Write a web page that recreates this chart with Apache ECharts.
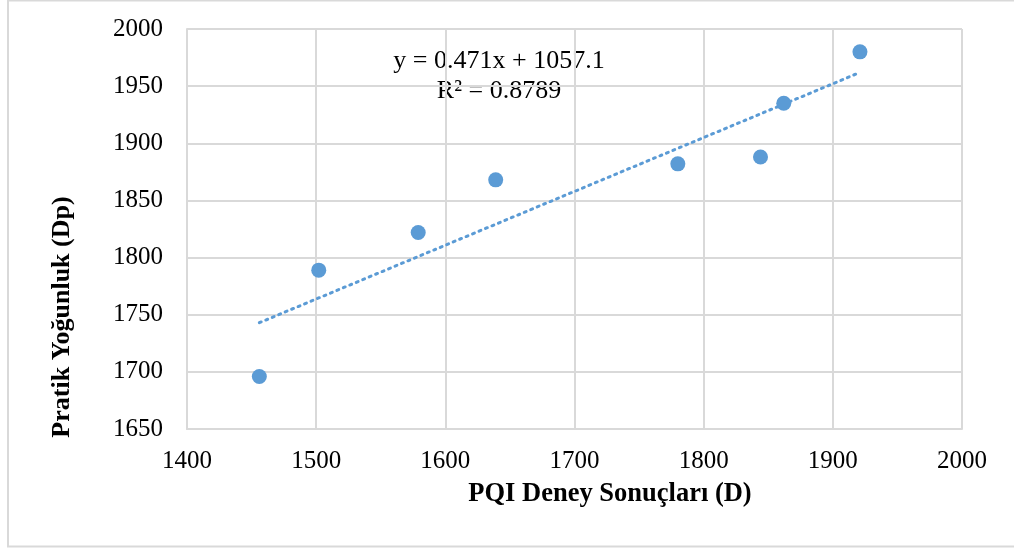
<!DOCTYPE html>
<html>
<head>
<meta charset="utf-8">
<script src="https://cdn.jsdelivr.net/npm/echarts@6/dist/echarts.min.js"></script>
<style>
  html, body { margin: 0; padding: 0; background: #fff; }
  #chart { width: 1014px; height: 551px; }
</style>
</head>
<body>
<div id="chart"></div>
<script>
// PQI readings (x) vs. practical density (y)
const pqiValues = [1456, 1502, 1579, 1639, 1780, 1844, 1862, 1921];
const densityValues = [1696, 1789, 1822, 1868, 1882, 1888, 1935, 1980];

// linear trendline ends, as drawn
const trendX = [1456, 1921];
const trendY = [1743, 1962];

const xTicks = [1400, 2000, 100];
const yTicks = [1650, 2000, 50];

const equationText = "y = 0.471x + 1057.1";
const r2Text = "R² = 0.8789";
const xTitle = "PQI Deney Sonuçları (D)";
const yTitle = "Pratik Yoğunluk (Dp)";

const FONT = '"Liberation Serif", "Times New Roman", serif';
const BLUE = "#5b9bd5";
const GRID = "#d9d9d9";

const chart = echarts.init(document.getElementById("chart"));

chart.setOption({
  animation: false,
  textStyle: { fontFamily: FONT },
  grid: { left: 187, top: 29, width: 775, height: 400, containLabel: false },
  xAxis: {
    type: "value",
    min: xTicks[0],
    max: xTicks[1],
    interval: xTicks[2],
    axisLine: { show: true, lineStyle: { color: GRID, width: 2 } },
    axisTick: { show: false },
    splitLine: { show: true, lineStyle: { color: GRID, width: 2 } },
    axisLabel: {
      color: "#000", fontSize: 25, fontFamily: FONT, margin: 20,
      formatter: (v) => String(v)
    }
  },
  yAxis: {
    type: "value",
    min: yTicks[0],
    max: yTicks[1],
    interval: yTicks[2],
    axisLine: { show: true, lineStyle: { color: GRID, width: 2 } },
    axisTick: { show: false },
    splitLine: { show: true, lineStyle: { color: GRID, width: 2 } },
    axisLabel: {
      color: "#000", fontSize: 25, fontFamily: FONT, margin: 24,
      formatter: (v) => String(v)
    }
  },
  series: [
    {
      name: "Trend",
      type: "line",
      data: trendX.map((x, i) => [x, trendY[i]]),
      showSymbol: false,
      lineStyle: { color: BLUE, width: 3, type: [2, 5], cap: "round" },
      z: 2
    },
    {
      name: "PQI",
      type: "scatter",
      data: pqiValues.map((x, i) => [x, densityValues[i]]),
      symbolSize: 15,
      itemStyle: { color: BLUE, opacity: 1 },
      z: 3
    }
  ],
  graphic: [
    {
      type: "rect",
      shape: { x: 8, y: 0.5, width: 1020, height: 546 },
      style: { fill: null, stroke: "#d9d9d9", lineWidth: 2 },
      silent: true,
      z: -1
    },
    {
      type: "text",
      x: 499, y: 61,
      style: {
        text: equationText, font: "26px " + FONT, fill: "#000",
        align: "center", verticalAlign: "middle"
      }
    },
    {
      type: "text",
      x: 499, y: 91,
      style: {
        text: r2Text, font: "26px " + FONT, fill: "#000",
        align: "center", verticalAlign: "middle"
      }
    },
    {
      type: "text",
      x: 610, y: 494,
      style: {
        text: xTitle, font: "bold 26.5px " + FONT, fill: "#000",
        align: "center", verticalAlign: "middle"
      }
    },
    {
      type: "text",
      x: 62, y: 317,
      rotation: Math.PI / 2,
      style: {
        text: yTitle, font: "bold 26px " + FONT, fill: "#000",
        align: "center", verticalAlign: "middle"
      }
    }
  ]
});
</script>
</body>
</html>
